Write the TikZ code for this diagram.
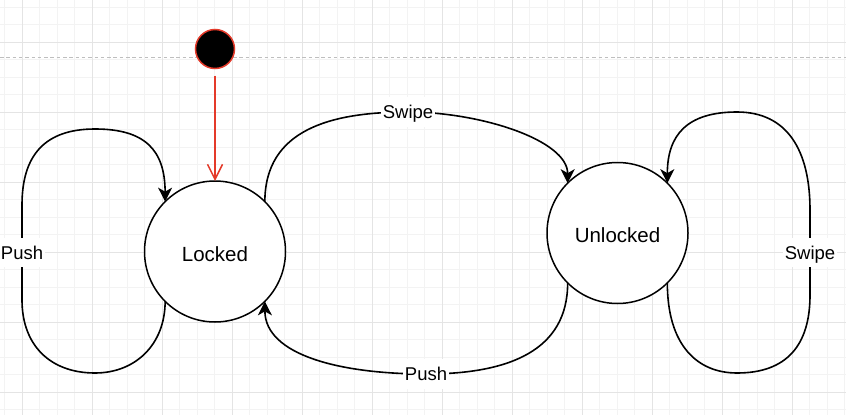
\documentclass[tikz,border=0pt]{standalone}
\usepackage{fontspec}
\setmainfont{Liberation Sans}
\usetikzlibrary{arrows.meta}
\definecolor{gridmajor}{RGB}{228,228,228}
\definecolor{gridminor}{RGB}{243,243,243}
\definecolor{pagebreak}{RGB}{190,190,190}
\definecolor{initred}{RGB}{228,58,42}
\tikzset{
  gridminorline/.style={draw=gridminor, line width=0.8pt},
  gridmajorline/.style={draw=gridmajor, line width=0.8pt},
  pagebreakline/.style={draw=pagebreak, line width=0.8pt, dash pattern=on 3.5pt off 2.8pt},
  state/.style={circle, draw=black, line width=1.5pt, fill=white, minimum size=141pt,
    inner sep=0pt, outer sep=0pt, text height=19.5pt, text depth=0pt,
    font=\fontsize{20.5}{24}\selectfont},
  initstate/.style={circle, draw=initred, fill=black, line width=1.5pt, minimum size=39pt,
    inner sep=0pt, outer sep=0pt},
  trans/.style={draw=black, line width=1.6pt, -{Stealth[length=14pt,width=14pt,inset=4pt]}},
  inittrans/.style={draw=initred, line width=1.5pt,
    -{Straight Barb[length=15pt,width=15pt,line width=1.5pt]}, shorten <=7pt},
  lbl/.style={fill=white, inner xsep=1.5pt, inner ysep=8pt, text height=13.2pt, text depth=0pt,
    font=\fontsize{18.5}{22}\selectfont}
}
\begin{document}
\begin{tikzpicture}[x=1pt,y=-1pt]
\useasboundingbox (0,0) rectangle (846,415);
\fill[white] (0,0) rectangle (846,415);
% grid
\foreach \i in {0,...,48} {
  \pgfmathsetmacro{\gx}{4.5+17.5*\i}
  \draw[gridminorline] (\gx,0) -- (\gx,415);
}
\foreach \j in {0,...,23} {
  \pgfmathsetmacro{\gy}{7+17.5*\j}
  \draw[gridminorline] (0,\gy) -- (846,\gy);
}
\foreach \i in {0,...,11} {
  \pgfmathsetmacro{\gx}{22+70*\i}
  \draw[gridmajorline] (\gx,0) -- (\gx,415);
}
\foreach \j in {0,...,5} {
  \pgfmathsetmacro{\gy}{42+70*\j}
  \draw[gridmajorline] (0,\gy) -- (846,\gy);
}
\draw[pagebreakline] (0,57.5) -- (846,57.5);

% states
\node[initstate] (init) at (215,49) {};
\node[state] (L) at (215,251.5) {Locked};
\node[state] (U) at (617.5,233) {Unlocked};

% initial transition
\draw[inittrans] (init) -- (L);

% Locked self loop (Push)
\draw[trans] (L.-135) .. controls (165,345) and (135,373) .. (95,373)
  .. controls (50,373) and (22,345) .. (22,300)
  -- node[lbl] {Push} (22,205)
  .. controls (22,155) and (45,129) .. (95,129)
  .. controls (145,129) and (165,150) .. (L.135);

% Locked -> Unlocked (Swipe)
\draw[trans] (L.45) .. controls (265,130) and (330,112) .. (408,112) node[lbl] {Swipe}
  .. controls (480,112) and (567.7,140) .. (U.135);

% Unlocked -> Locked (Push)
\draw[trans] (U.-135) .. controls (567.7,350) and (510,374) .. (426,374) node[lbl] {Push}
  .. controls (340,374) and (265,355) .. (L.-45);

% Unlocked self loop (Swipe)
\draw[trans] (U.-45) .. controls (667.3,345) and (697,373) .. (737,373)
  .. controls (787,373) and (810,345) .. (810,295)
  -- node[lbl] {Swipe} (810,210)
  .. controls (810,150) and (787,112) .. (737,112)
  .. controls (687,112) and (667.3,135) .. (U.45);
\end{tikzpicture}
\end{document}
